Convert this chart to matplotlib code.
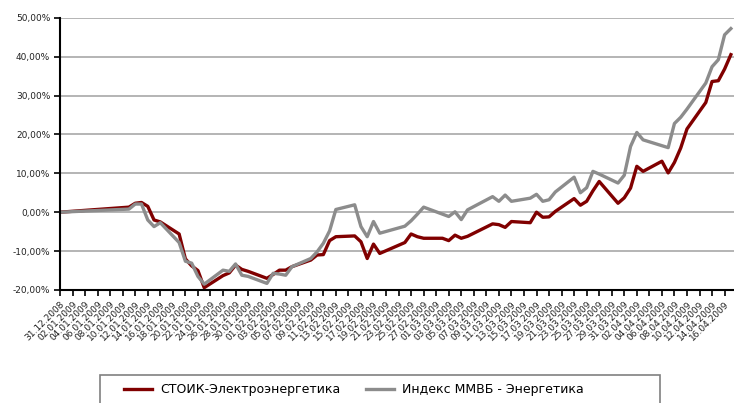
import matplotlib
matplotlib.use("Agg")
import matplotlib.pyplot as plt
from matplotlib.patches import Rectangle
from matplotlib.ticker import FuncFormatter
import pandas as pd

# trading days
dates = [
    '31.12.2008',
    '11.01.2009', '12.01.2009', '13.01.2009', '14.01.2009', '15.01.2009', '16.01.2009',
    '19.01.2009', '20.01.2009', '21.01.2009', '22.01.2009', '23.01.2009',
    '26.01.2009', '27.01.2009', '28.01.2009', '29.01.2009', '30.01.2009',
    '02.02.2009', '03.02.2009', '04.02.2009', '05.02.2009', '06.02.2009',
    '09.02.2009', '10.02.2009', '11.02.2009', '12.02.2009', '13.02.2009',
    '16.02.2009', '17.02.2009', '18.02.2009', '19.02.2009', '20.02.2009',
    '24.02.2009', '25.02.2009', '26.02.2009', '27.02.2009',
    '02.03.2009', '03.03.2009', '04.03.2009', '05.03.2009', '06.03.2009',
    '10.03.2009', '11.03.2009', '12.03.2009', '13.03.2009',
    '16.03.2009', '17.03.2009', '18.03.2009', '19.03.2009', '20.03.2009',
    '23.03.2009', '24.03.2009', '25.03.2009', '26.03.2009', '27.03.2009',
    '30.03.2009', '31.03.2009', '01.04.2009', '02.04.2009', '03.04.2009',
    '06.04.2009', '07.04.2009', '08.04.2009', '09.04.2009', '10.04.2009',
    '13.04.2009', '14.04.2009', '15.04.2009', '16.04.2009', '17.04.2009',
]

# СТОИК-Электроэнергетика, %
stoik = [
    0.0,
    1.3, 2.3, 2.5, 1.5, -2.0, -2.5,
    -5.6, -12.0, -13.8, -15.0, -19.4,
    -16.3, -15.6, -13.6, -14.7, -15.2,
    -17.0, -16.0, -14.9, -14.9, -14.0,
    -12.3, -11.0, -10.9, -7.3, -6.3,
    -6.1, -7.6, -11.9, -8.2, -10.6,
    -7.8, -5.6, -6.3, -6.7,
    -6.7, -7.3, -5.9, -6.7, -6.2,
    -3.0, -3.2, -3.9, -2.4,
    -2.7, 0.0, -1.3, -1.2, 0.2,
    3.5, 1.8, 2.8, 5.5, 7.9,
    2.3, 3.7, 6.2, 11.8, 10.5,
    13.1, 10.1, 12.8, 16.5, 21.4,
    28.2, 33.6, 33.8, 36.8, 40.5,
]

# Индекс ММВБ - Энергетика, %
micex = [
    0.0,
    0.8, 2.1, 2.1, -2.0, -3.7, -2.7,
    -7.8, -12.6, -13.1, -16.5, -18.5,
    -14.9, -15.2, -13.3, -16.2, -16.5,
    -18.3, -15.7, -15.9, -16.2, -14.0,
    -11.9, -10.2, -8.0, -4.8, 0.7,
    1.9, -3.7, -6.3, -2.4, -5.4,
    -3.6, -2.2, -0.5, 1.3,
    -0.5, -1.1, 0.1, -1.9, 0.6,
    4.0, 2.8, 4.4, 2.8,
    3.6, 4.6, 2.8, 3.2, 5.2,
    9.0, 5.0, 6.3, 10.5, 9.8,
    7.5, 9.5, 16.9, 20.5, 18.6,
    17.1, 16.6, 22.8, 24.4, 26.5,
    33.2, 37.4, 39.2, 45.6, 47.2,
]

labels = ['СТОИК-Электроэнергетика', 'Индекс ММВБ - Энергетика']

x = pd.to_datetime(dates, format='%d.%m.%Y')
ticks = pd.date_range('2008-12-31', '2009-04-16', freq='2D')

fig = plt.figure(figsize=(7.34, 4.03), dpi=100)
ax = fig.add_axes([60 / 734, 1 - 290 / 403, 674 / 734, (290 - 17.7) / 403])

for v in range(-10, 60, 10):
    ax.axhline(v, color='#a0a0a0', lw=1.1, zorder=1)

l1, = ax.plot(x, stoik, color='#800000', lw=2.4, zorder=3)
l2, = ax.plot(x, micex, color='#8c8c8c', lw=2.4, zorder=4)

ax.set_ylim(-20, 50)
ax.set_yticks(range(-20, 60, 10))
ax.yaxis.set_major_formatter(FuncFormatter(lambda v, p: f'{v:.2f}%'.replace('.', ',')))
ax.set_xlim(x[0], x[0] + pd.Timedelta(days=107.5))
ax.set_xticks(ticks)
ax.set_xticklabels([t.strftime('%d.%m.%Y') for t in ticks], rotation=45,
                   ha='right', va='top', rotation_mode='anchor')

ax.tick_params(axis='both', direction='out', length=4, width=1.2, color='black',
               labelsize=6.5, labelcolor='#222222', pad=3)
for s in ['top', 'right']:
    ax.spines[s].set_visible(False)
for s in ['left', 'bottom']:
    ax.spines[s].set_linewidth(1.5)
    ax.spines[s].set_zorder(5)

# legend box
fig.patches.append(Rectangle((100 / 734, -0.1), 560 / 734, 0.1 + (403 - 375) / 403,
                             transform=fig.transFigure, fill=False,
                             edgecolor='#808080', lw=1.2))
fig.legend([l1, l2], labels, loc='center', bbox_to_anchor=(354 / 734, 1 - 390 / 403),
           ncol=2, frameon=False, handlelength=2.2, columnspacing=2.1, handletextpad=0.65,
           prop={'family': ['Liberation Sans Narrow', 'DejaVu Sans'], 'size': 9})

fig.savefig('out.png', dpi=100)
